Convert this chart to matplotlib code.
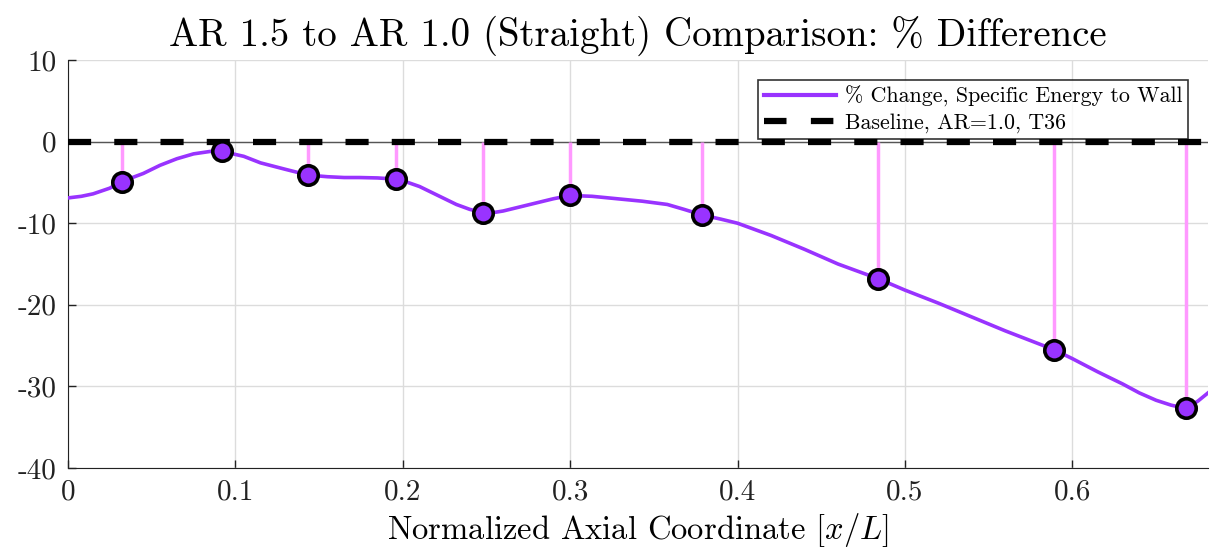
import matplotlib
matplotlib.use("Agg")
import matplotlib.pyplot as plt
from matplotlib.lines import Line2D

plt.rcParams['font.family'] = ['cmr10', 'DejaVu Serif']
plt.rcParams['mathtext.fontset'] = 'cm'
plt.rcParams['axes.unicode_minus'] = False
plt.rcParams['axes.formatter.use_mathtext'] = True

# continuous curve
curve_x = [0.000, 0.008, 0.015, 0.025, 0.032, 0.045, 0.055, 0.065, 0.075, 0.085,
           0.092, 0.105, 0.115, 0.130, 0.1435, 0.155, 0.165, 0.174, 0.185, 0.196,
           0.203, 0.210, 0.217, 0.224, 0.232, 0.240, 0.248, 0.254, 0.260, 0.270,
           0.280, 0.290, 0.300, 0.313, 0.328, 0.343, 0.358, 0.368, 0.379, 0.390,
           0.400, 0.420, 0.440, 0.460, 0.484, 0.500, 0.520, 0.540, 0.560, 0.589,
           0.600, 0.615, 0.630, 0.640, 0.650, 0.659, 0.668, 0.675, 0.681]
curve_y = [-6.9, -6.7, -6.4, -5.7, -4.9, -3.9, -2.9, -2.1, -1.5, -1.2,
           -1.2, -1.8, -2.6, -3.4, -4.1, -4.3, -4.4, -4.4, -4.45, -4.6,
           -5.0, -5.5, -6.2, -6.9, -7.7, -8.3, -8.7, -8.7, -8.5, -8.0,
           -7.5, -7.0, -6.6, -6.7, -7.0, -7.3, -7.7, -8.3, -9.0, -9.5,
           -10.0, -11.5, -13.2, -15.0, -16.8, -18.2, -19.8, -21.5, -23.2, -25.5,
           -26.6, -28.2, -29.7, -30.8, -31.7, -32.3, -32.7, -31.8, -30.8]

# sampled stations
station_x = [0.032, 0.092, 0.1435, 0.196, 0.248, 0.300, 0.379, 0.484, 0.589, 0.668]
station_y = [-4.9, -1.2, -4.1, -4.6, -8.7, -6.6, -9.0, -16.8, -25.5, -32.7]

purple = '#9933ff'
pink = '#ff99ff'

fig = plt.figure(figsize=(12.16, 5.55), dpi=100)
ax = fig.add_axes([0.0559, 0.1568, 0.9375, 0.735])

ax.grid(True, color='#dcdcdc', linewidth=1.0)
ax.set_axisbelow(True)

ax.axhline(0, color='#555555', linewidth=1.0, zorder=1)
ax.vlines(station_x, station_y, 0, color=pink, linewidth=2.5, zorder=2)
ax.plot(curve_x, curve_y, color=purple, linewidth=2.6, zorder=3,
        solid_joinstyle='round')
ax.plot(station_x, station_y, 'o', ms=14, mfc=purple, mec='black', mew=2.6, zorder=5)
ax.plot([0, 0.681], [0, 0], color='black', linewidth=4.5,
        linestyle=(0, (3.7, 3.7)), zorder=4)

ax.set_xlim(0, 0.681)
ax.set_ylim(-40, 10)
ax.set_xticks([0, 0.1, 0.2, 0.3, 0.4, 0.5, 0.6])
ax.set_xticklabels(['0', '0.1', '0.2', '0.3', '0.4', '0.5', '0.6'])
ax.set_yticks([-40, -30, -20, -10, 0, 10])
ax.set_yticklabels(['-40', '-30', '-20', '-10', '0', '10'])
ax.tick_params(direction='in', length=6, width=1, labelsize=21, pad=8, colors='#222222')
for s in ['top', 'right']:
    ax.spines[s].set_visible(False)
for s in ['left', 'bottom']:
    ax.spines[s].set_color('#222222')

ax.set_xlabel('Normalized Axial Coordinate [$x/L$]', fontsize=23.5, labelpad=4)
ax.set_title('AR 1.5 to AR 1.0 (Straight) Comparison: % Difference', fontsize=28, pad=10)

h1 = Line2D([], [], color=purple, linewidth=3)
h2 = Line2D([], [], color='black', linewidth=4.5, linestyle=(0, (3.6, 3.9)))
leg = ax.legend([h1, h2], ['% Change, Specific Energy to Wall', 'Baseline, AR=1.0, T36'],
                loc='upper right', bbox_to_anchor=(0.9825, 0.951),
                fontsize=15.8, frameon=True, fancybox=False, edgecolor='black',
                handlelength=3.3, borderpad=0.25, labelspacing=0.3, handletextpad=0.4,
                borderaxespad=0.0)
leg.get_frame().set_linewidth(1.2)

fig.savefig('out.png', dpi=100)
